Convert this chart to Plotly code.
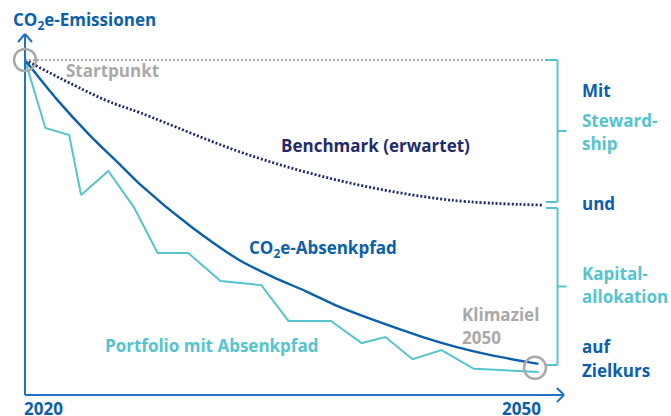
import plotly.graph_objects as go

# ---------------- data ----------------
portfolio_years = [2020, 2021.2, 2022.6, 2023.3, 2024.9, 2026.4, 2027.8, 2029.6, 2031.5,
                   2033.9, 2035.5, 2038.0, 2039.8, 2041.2, 2042.8, 2044.5, 2046.4, 2049.5, 2050.2]
portfolio_values = [100, 79.7, 77.6, 59.7, 66.9, 56.1, 42.4, 42.4, 34.0,
                    32.8, 22.1, 22.1, 15.5, 17.3, 10.7, 13.4, 7.8, 7.2, 6.9]

pathway_years = [2020, 2021.9, 2023.8, 2025.6, 2026.8, 2029.7, 2032.6, 2034.6, 2036.6,
                 2038.5, 2040.5, 2043.4, 2045.4, 2047.4, 2050.2]
pathway_values = [100, 88.1, 77.6, 68.7, 62.7, 50.5, 40.3, 35.2, 30.8,
                  26.3, 22.4, 17.3, 14.3, 11.9, 9.3]

benchmark_years = [2020, 2024.7, 2026.8, 2033.2, 2039.1, 2045.0, 2050.4]
benchmark_values = [100, 88.1, 84.2, 71.6, 63.3, 58.2, 56.7]

start_year, target_year = 2020, 2050
start_value, target_value = 100, 8.1
tick_labels = ["2020", "2050"]

# ---------------- styling ----------------
BLUE = "#0a60ad"
AXIS = "#1f72c6"
NAVY = "#1f2b6d"
CYAN = "#55c4ce"
GRAY = "#a9a9a9"
FONT = "Open Sans"
FS = 17

W, H = 671, 416
# pixel <-> data helpers (full-figure plot area)
def px2x(px):
    return 2020 + (px - 25) / 17.0

def py2y(py):
    return (395 - py) / 335.0 * 100

fig = go.Figure()

fig.add_trace(go.Scatter(x=benchmark_years, y=benchmark_values, mode="lines",
                         line=dict(color=NAVY, width=2.8, dash="2px,2px", shape="spline"),
                         hoverinfo="skip"))
fig.add_trace(go.Scatter(x=portfolio_years, y=portfolio_values, mode="lines",
                         line=dict(color=CYAN, width=2), hoverinfo="skip"))
fig.add_trace(go.Scatter(x=pathway_years, y=pathway_values, mode="lines",
                         line=dict(color=BLUE, width=2.4, shape="spline", smoothing=0.8),
                         hoverinfo="skip"))

shapes = []
def seg(x0, y0, x1, y1, color, width, dash=None):
    d = dict(type="line", xref="x", yref="y", x0=x0, y0=y0, x1=x1, y1=y1,
             line=dict(color=color, width=width), layer="above")
    if dash:
        d["line"]["dash"] = dash
    shapes.append(d)

# start level dotted gray
seg(start_year, start_value, px2x(546), start_value, GRAY, 2, "2px,2px")

# axes
seg(start_year, py2y(395), start_year, py2y(34), AXIS, 2)
seg(px2x(18), py2y(42), start_year, py2y(34), AXIS, 2)
seg(px2x(32), py2y(42), start_year, py2y(34), AXIS, 2)
seg(start_year, py2y(395), px2x(564), py2y(395), AXIS, 2)
seg(px2x(557), py2y(388), px2x(564), py2y(395), AXIS, 2)
seg(px2x(557), py2y(402), px2x(564), py2y(395), AXIS, 2)

# brackets
bx_in, bx, bx_out = px2x(546), px2x(557.5), px2x(566.5)
up_top, up_bot = start_value, py2y(202)
lo_top, lo_bot = py2y(208), py2y(365)
for top, bot in [(up_top, up_bot), (lo_top, lo_bot)]:
    seg(bx_in, top, bx, top, CYAN, 2)
    seg(bx, top, bx, bot, CYAN, 2)
    seg(bx_in, bot, bx, bot, CYAN, 2)
    mid = (top + bot) / 2
    seg(bx, mid, bx_out, mid, CYAN, 2)

# circles
for cx, cy in [(start_year, start_value), (target_year, target_value)]:
    shapes.append(dict(type="circle", xref="x", yref="y", xsizemode="pixel", ysizemode="pixel",
                       xanchor=cx, yanchor=cy, x0=-11, x1=11, y0=-11, y1=11,
                       line=dict(color=GRAY, width=2.5), layer="above"))

annotations = []
def txt(text, px, py, color, size=FS, anchor="left"):
    annotations.append(dict(text=text, x=px2x(px), y=py2y(py), xref="x", yref="y",
                            showarrow=False, xanchor=anchor, yanchor="middle",
                            font=dict(family=FONT, size=size, color=color, weight="bold")))

txt("CO<sub>2</sub>e-Emissionen", 11, 20, BLUE)
txt("Startpunkt", 64, 70, GRAY)
txt("Benchmark (erwartet)", 279, 145, NAVY)
txt("CO<sub>2</sub>e-Absenkpfad", 247, 248, BLUE)
txt("Portfolio mit Absenkpfad", 103, 345, CYAN)
txt("Klimaziel", 460, 314, GRAY)
txt("2050", 460, 337, GRAY)
txt(tick_labels[0], 22, 408, BLUE)
txt(tick_labels[1], 543, 408, BLUE, anchor="right")

txt("Mit", 580, 90, BLUE)
txt("Steward-", 580, 120, CYAN)
txt("ship", 580, 143, CYAN)
txt("und", 580, 203, BLUE)
txt("Kapital-", 580, 273, CYAN)
txt("allokation", 580, 296, CYAN)
txt("auf", 580, 346, BLUE)
txt("Zielkurs", 580, 370, BLUE)

fig.update_layout(
    width=W, height=H, margin=dict(l=0, r=0, t=0, b=0),
    paper_bgcolor="white", plot_bgcolor="white", showlegend=False,
    xaxis=dict(range=[px2x(0), px2x(W)], visible=False, fixedrange=True),
    yaxis=dict(range=[py2y(H), py2y(0)], visible=False, fixedrange=True),
    shapes=shapes, annotations=annotations,
)

fig.write_html("out.html", config={"displayModeBar": False},
               post_script="document.body.style.margin='0';document.body.style.overflow='hidden';")
